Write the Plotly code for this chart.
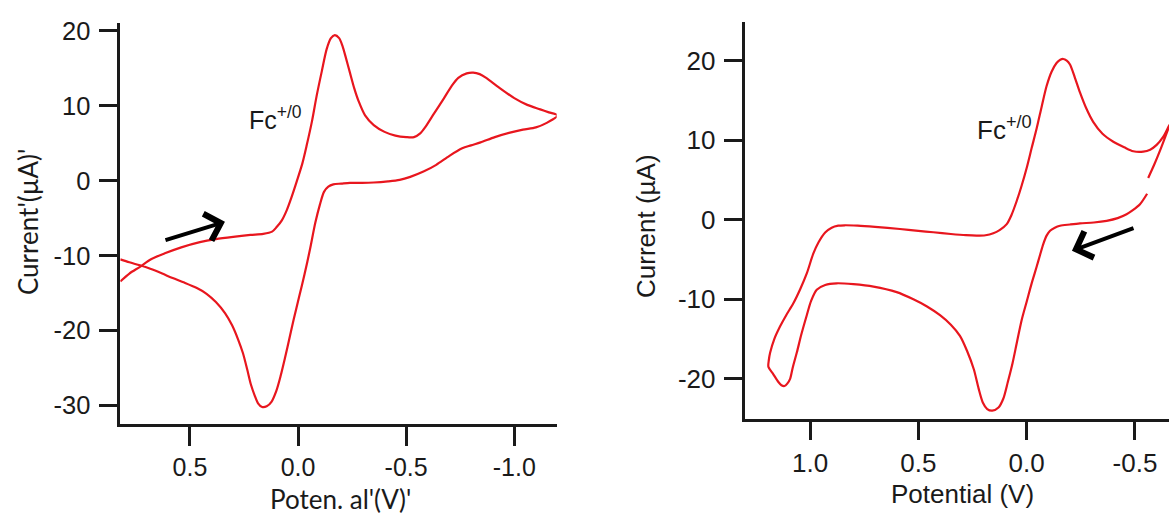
import plotly.graph_objects as go

# ---- Left voltammogram: scan 0.82 V -> -1.20 V -> 0.82 V ----
E_left = [
    0.822, 0.78, 0.731, 0.68, 0.616, 0.54, 0.454, 0.38, 0.30, 0.22, 0.161, 0.12,
    0.099, 0.075, 0.053, 0.03, 0.006, -0.02, -0.04, -0.065, -0.086, -0.11, -0.132,
    -0.152, -0.17, -0.19, -0.205, -0.222, -0.24, -0.26, -0.28, -0.31, -0.35, -0.40,
    -0.45, -0.50, -0.536, -0.565, -0.59, -0.63, -0.673, -0.71, -0.741, -0.78, -0.81,
    -0.84, -0.87, -0.93, -1.0, -1.06, -1.12, -1.16, -1.20,
    -1.15, -1.1, -1.04, -0.98, -0.91, -0.844, -0.8, -0.759, -0.70, -0.639, -0.58,
    -0.519, -0.47, -0.416, -0.35, -0.296, -0.24, -0.20, -0.163, -0.14, -0.12, -0.101,
    -0.08, -0.055, -0.03, -0.005, 0.02, 0.038, 0.06, 0.081, 0.10, 0.123, 0.145, 0.166,
    0.185, 0.20, 0.218, 0.235, 0.255, 0.277, 0.305, 0.337, 0.38, 0.423, 0.47, 0.526,
    0.58, 0.628, 0.68, 0.731, 0.78, 0.822,
]
I_left = [
    -13.45, -12.4, -11.5, -10.5, -9.7, -8.9, -8.2, -7.8, -7.5, -7.25, -7.1, -6.8,
    -6.2, -5.3, -4.0, -2.2, -0.1, 2.3, 4.7, 8.0, 11.3, 14.6, 17.5,
    19.0, 19.4, 19.0, 18.0, 16.3, 14.4, 12.3, 10.6, 8.7, 7.4, 6.5,
    6.0, 5.8, 5.8, 6.3, 7.2, 9.0, 10.9, 12.6, 13.7, 14.3, 14.4,
    14.2, 13.7, 12.4, 11.0, 10.1, 9.5, 9.1, 8.7,
    7.7, 7.1, 6.8, 6.4, 5.8, 5.1, 4.7, 4.3, 3.3, 2.1, 1.2,
    0.5, 0.1, -0.1, -0.25, -0.3, -0.3, -0.4, -0.5, -0.8, -1.5, -3.2,
    -5.6, -9.2, -12.5, -15.5, -18.5, -20.8, -23.6, -26.1, -28.0, -29.5, -30.1, -30.2,
    -29.7, -28.7, -27.2, -25.2, -23.0, -21.2, -19.3, -17.7, -16.2, -15.1, -14.3, -13.6,
    -13.0, -12.4, -11.8, -11.3, -10.9, -10.5,
]

# ---- Right voltammogram: scan -0.56 V -> 1.19 V -> -0.66 V ----
E_right = [
    -0.556, -0.523, -0.49, -0.461, -0.42, -0.369, -0.31, -0.246, -0.2, -0.154, -0.13,
    -0.108, -0.092, -0.077, -0.062, -0.046, -0.023, 0.0, 0.023, 0.045, 0.065, 0.087,
    0.108, 0.13, 0.159, 0.182, 0.202, 0.222, 0.244, 0.275, 0.308, 0.35, 0.4, 0.46,
    0.523, 0.6, 0.707, 0.8, 0.877, 0.93, 0.969, 0.995, 1.015, 1.04, 1.061, 1.08,
    1.092, 1.105, 1.118, 1.132, 1.146, 1.17, 1.192,
    1.19, 1.184, 1.165, 1.138, 1.11, 1.077, 1.045, 1.015, 0.985, 0.96, 0.93, 0.9,
    0.87, 0.84, 0.78, 0.7, 0.585, 0.5, 0.431, 0.35, 0.28, 0.231, 0.19, 0.154, 0.125,
    0.092, 0.07, 0.046, 0.023, 0.0, -0.023, -0.046, -0.07, -0.092, -0.115, -0.138,
    -0.155, -0.169, -0.185, -0.2, -0.222, -0.246, -0.275, -0.307, -0.35, -0.4, -0.45,
    -0.492, -0.538, -0.57, -0.6, -0.63, -0.657, -0.664,
    -0.657, -0.62, -0.59, -0.561,
]
I_right = [
    3.26, 1.94, 1.2, 0.69, 0.2, -0.14, -0.35, -0.46, -0.6, -0.76, -1.0,
    -1.38, -2.0, -3.03, -4.4, -5.92, -8.0, -10.3, -12.6, -15.4, -18.0, -20.4,
    -22.5, -23.6, -24.0, -23.8, -23.0, -21.2, -18.8, -16.5, -14.6, -13.2, -12.0, -10.9,
    -10.0, -9.1, -8.4, -8.1, -7.99, -8.2, -8.8, -10.2, -12.0, -14.4, -16.7, -18.6,
    -20.0, -20.6, -20.9, -20.8, -20.4, -19.4, -18.5,
    -17.6, -16.7, -15.0, -13.4, -12.0, -10.5, -8.7, -6.75, -4.27, -2.8, -1.6, -1.0,
    -0.75, -0.7, -0.75, -0.9, -1.17, -1.4, -1.58, -1.8, -1.95, -2.0, -1.95, -1.7, -1.3,
    -0.55, 0.6, 2.35, 4.3, 6.5, 9.0, 11.45, 14.3, 16.8, 18.6, 19.7,
    20.1, 20.2, 20.0, 19.5, 17.9, 16.0, 14.0, 12.3, 10.8, 9.8, 9.1,
    8.6, 8.55, 8.8, 9.4, 10.4, 11.8, 12.1,
    11.65, 9.0, 7.0, 5.25,
]

x_ticks_left = [0.5, 0.0, -0.5, -1.0]
x_ticks_right = [1.0, 0.5, 0.0, -0.5]
y_ticks_left = [20, 10, 0, -10, -20, -30]
y_ticks_right = [20, 10, 0, -10, -20]

RED = "#e8161e"
INK = "#1a1a1a"
ARIAL = "Liberation Sans, Arial, sans-serif"
CALIBRI = "Lato, sans-serif"

fig = go.Figure()
for ex, iy, xa, ya in [(E_left, I_left, "x", "y"), (E_right, I_right, "x2", "y2")]:
    fig.add_trace(go.Scatter(
        x=ex, y=iy, mode="lines",
        line=dict(color=RED, width=2.2, shape="spline", smoothing=0.8),
        xaxis=xa, yaxis=ya, showlegend=False, hoverinfo="skip"))


def axis(domain, rng, ticks, anchor, size, standoff):
    return dict(
        domain=domain, range=rng, anchor=anchor,
        tickmode="array", tickvals=ticks,
        ticktext=[f"{t:.1f}" if isinstance(t, float) else str(t) for t in ticks],
        ticks="outside", ticklen=19, tickwidth=2.5, tickcolor=INK,
        showline=True, linewidth=2.5, linecolor=INK,
        showgrid=False, zeroline=False,
        ticklabelstandoff=standoff,
        tickfont=dict(family=ARIAL, size=size, color=INK),
    )


fig.update_layout(
    width=1169, height=515, autosize=False,
    margin=dict(l=0, r=0, t=0, b=0),
    paper_bgcolor="white", plot_bgcolor="white",
    xaxis=axis([0.1029, 0.4762], [0.822, -1.196], x_ticks_left, "y", 25, 0),
    yaxis=axis([0.1792, 0.9676], [-32.46, 20.96], y_ticks_left, "x", 25.5, 3),
    xaxis2=axis([0.6377, 1.0], [1.298, -0.657], x_ticks_right, "y2", 26, 0),
    yaxis2=axis([0.1897, 0.9713], [-25.0, 24.9], y_ticks_right, "x2", 26, 3),
)

annotations = [
    # axis titles
    dict(text="Current'(µA)'", x=28 / 1169, y=1 - 218 / 515, xref="paper", yref="paper",
         xanchor="center", yanchor="middle", textangle=-90, showarrow=False,
         font=dict(family=CALIBRI, size=26, color=INK)),
    dict(text="Poten. al'(V)'", x=340 / 1169, y=1 - 499 / 515, xref="paper", yref="paper",
         xanchor="center", yanchor="middle", showarrow=False,
         font=dict(family=CALIBRI, size=26, color=INK)),
    dict(text="Current (µA)", x=646 / 1169, y=1 - 222 / 515, xref="paper", yref="paper",
         xanchor="center", yanchor="middle", textangle=-90, showarrow=False,
         font=dict(family=ARIAL, size=26, color=INK)),
    dict(text="Potential (V)", x=962 / 1169, y=1 - 494 / 515, xref="paper", yref="paper",
         xanchor="center", yanchor="middle", showarrow=False,
         font=dict(family=ARIAL, size=26, color=INK)),
    # couple labels
    dict(text="Fc<sup>+/0</sup>", x=0.238, y=8.3, xref="x", yref="y",
         xanchor="left", yanchor="middle", showarrow=False,
         font=dict(family=ARIAL, size=25, color=INK)),
    dict(text="Fc<sup>+/0</sup>", x=0.239, y=11.5, xref="x2", yref="y2",
         xanchor="left", yanchor="middle", showarrow=False,
         font=dict(family=ARIAL, size=26, color=INK)),
    # scan-direction arrows
    dict(x=0.338, y=-5.5, ax=0.62, ay=-8.0, xref="x", yref="y", axref="x", ayref="y",
         text="", showarrow=True, arrowhead=4, arrowsize=1.35, arrowwidth=4, arrowcolor="black"),
    dict(x=-0.209, y=-3.9, ax=-0.5, ay=-1.0, xref="x2", yref="y2", axref="x2", ayref="y2",
         text="", showarrow=True, arrowhead=4, arrowsize=1.35, arrowwidth=4, arrowcolor="black"),
]
fig.update_layout(annotations=annotations)

fig.write_html("out.html")
